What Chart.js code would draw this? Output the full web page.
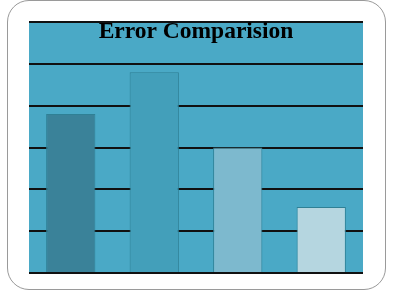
<!DOCTYPE html>
<html>
<head>
<meta charset="utf-8">
<script src="https://cdn.jsdelivr.net/npm/chart.js@4.4.0/dist/chart.umd.min.js"></script>
<style>
    html, body { margin: 0; padding: 0; background: #ffffff; }
    .frame {
        position: absolute;
        left: 7px; top: 0px;
        width: 377px; height: 288px;
        border: 1.5px solid #9a9a9a;
        border-radius: 22px;
    }
    .wrap { position: absolute; left: 0; top: 0; width: 394px; height: 292px; }
</style>
</head>
<body>
<div class="frame"></div>
<div class="wrap"><canvas id="errorChart" width="394" height="292"></canvas></div>
<script>
// values (gridline units)
const categories = ['A', 'B', 'C', 'D'];
const errorValues = [3.8, 4.8, 3.0, 1.58];
const barColors = ['#3a8299', '#439fba', '#7db9ce', '#b5d6e0'];
const yTicks = [0, 1, 2, 3, 4, 5, 6];

const chartTitle = 'Error Comparision';

// fill plot area + draw title on top of it
const plotBg = {
    id: 'plotBg',
    beforeDraw(chart) {
        const { ctx, chartArea: a } = chart;
        ctx.save();
        ctx.fillStyle = '#4aa9c6';
        ctx.fillRect(a.left, a.top, a.right - a.left, a.bottom - a.top);
        ctx.restore();
    },
    afterDraw(chart) {
        const { ctx, chartArea: a } = chart;
        ctx.save();
        ctx.font = 'bold 23.5px "Liberation Serif", "Times New Roman", serif';
        ctx.fillStyle = '#000000';
        ctx.textAlign = 'center';
        ctx.textBaseline = 'alphabetic';
        ctx.fillText(chartTitle, 196, 37.5);
        ctx.restore();
    }
};

new Chart(document.getElementById('errorChart').getContext('2d'), {
    type: 'bar',
    data: {
        labels: categories,
        datasets: [{
            data: errorValues,
            backgroundColor: barColors,
            borderColor: '#2f8095',
            borderWidth: 1,
            categoryPercentage: 1,
            barPercentage: 0.59
        }]
    },
    options: {
        responsive: false,
        animation: false,
        layout: { padding: { left: 29, right: 31, top: 22, bottom: 19 } },
        plugins: {
            legend: { display: false },
            tooltip: { enabled: false }
        },
        scales: {
            x: { display: false },
            y: {
                min: 0,
                max: 6,
                afterFit: s => { s.width = 0; },
                afterBuildTicks: s => { s.ticks = yTicks.map(v => ({ value: v })); },
                ticks: { display: false },
                border: { display: false },
                grid: { color: '#111111', lineWidth: 2, drawTicks: false }
            }
        }
    },
    plugins: [plotBg]
});
</script>
</body>
</html>
